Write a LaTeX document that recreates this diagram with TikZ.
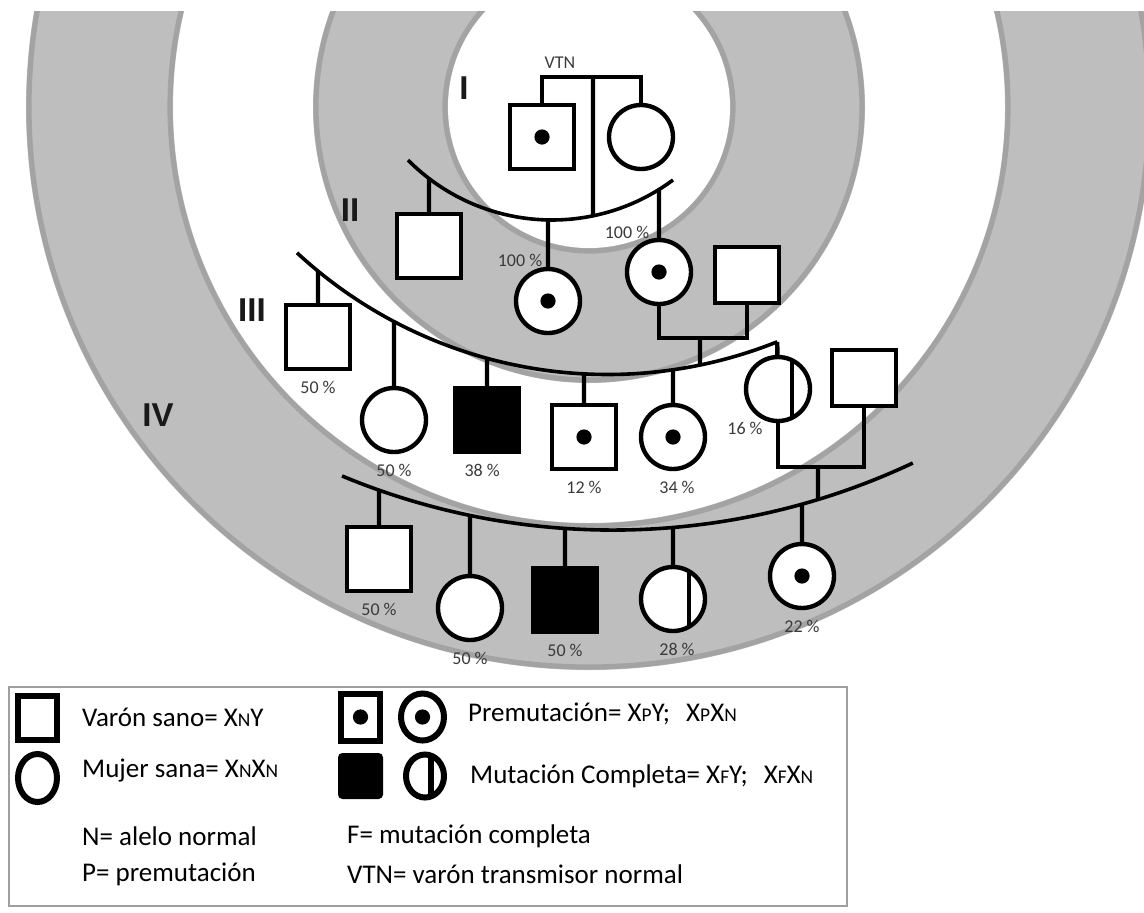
\documentclass[tikz,border=0pt]{standalone}
\usepackage{graphicx}
\usepackage{fontspec}
\setmainfont{Carlito}
\newfontfamily\genfont{Liberation Sans}
\usetikzlibrary{positioning,shapes.geometric}
\definecolor{ring}{HTML}{BEBEBE}
\definecolor{rim}{HTML}{A3A3A3}
\definecolor{pctgray}{HTML}{3A3A3A}
\newcommand{\al}[1]{\scalebox{0.72}{#1}}

\begin{document}
\begin{tikzpicture}[x=0.25mm,y=-0.25mm,line width=1.1mm,every node/.style={inner sep=0pt},
 male/.style={draw,fill=white,minimum width=16mm,minimum height=16mm},
 female/.style={draw,fill=white,circle,minimum size=16mm},
 spouse/.style={male,minimum height=14mm},
 carrier/.style={path picture={\fill[black] (path picture bounding box.center) circle[radius=1.9mm];}},
 affm/.style={male,fill=black},
 half/.style={path picture={\draw[black] ([xshift=#1]path picture bounding box.north)--([xshift=#1]path picture bounding box.south);}},
 sib/.style={line width=0.9mm},
 pct/.style={font=\fontsize{12.8}{14}\selectfont,text=pctgray},
 gen/.style={font=\genfont\bfseries\fontsize{23.5}{26}\selectfont,text=black!90},
 lg/.style={draw,fill=white,line width=1.5mm},
 lgtxt/.style={anchor=west,font=\fontsize{19.2}{22}\selectfont}]
\useasboundingbox (0,0) rectangle (1144,912);
% generation rings
\coordinate (c0) at (589,107);
\begin{scope}
\clip (0,11) rectangle (1144,912);
\fill[ring,even odd rule] (c0) circle[radius=563] (c0) circle[radius=416];
\fill[ring] (c0) circle[radius=276];
\fill[white] (c0) circle[radius=141];
\draw[rim,line width=1.3mm] (c0) circle[radius=560];\draw[rim,line width=1.3mm] (c0) circle[radius=419];
\draw[rim,line width=1.3mm] (c0) circle[radius=273];\draw[rim,line width=1.3mm] (c0) circle[radius=144];
\end{scope}
\node[gen] (g1) at (464,88) {I};
\node[gen] (g2) at (350,210) {II};
\node[gen] (g3) at (252,310) {III};
\node[gen] (g4) at (158,415) {IV};
% sibship arcs and their drop points
\coordinate (a2) at (552,17);\coordinate (a3) at (607.5,-82.5);\coordinate (a4) at (612.8,-174.5);
\draw[sib] (a2) ++(135.2:203) arc[start angle=135.2,end angle=53.4,radius=203];
\draw[sib] (a3) ++(132.8:457) arc[start angle=132.8,end angle=68.2,radius=457];
\draw[sib] (a4) ++(112.6:704.6) arc[start angle=112.6,end angle=64.8,radius=704.6];
\path (a2) ++({acos(41/203)}:203) coordinate (d2);\path (a2) ++({acos(-123/203)}:203) coordinate (t21);
\path (a2) ++({acos(-4/203)}:203) coordinate (t22);\path (a2) ++({acos(107/203)}:203) coordinate (t23);
\path (a3) ++({acos(92.5/457)}:457) coordinate (d3);\path (a3) ++({acos(-289.5/457)}:457) coordinate (t31);
\path (a3) ++({acos(-213.5/457)}:457) coordinate (t32);\path (a3) ++({acos(-120.5/457)}:457) coordinate (t33);
\path (a3) ++({acos(-23.5/457)}:457) coordinate (t34);\path (a3) ++({acos(65.5/457)}:457) coordinate (t35);
\path (a3) ++(68.2:457) coordinate (t36);
\path (a4) ++({acos(205.2/704.6)}:704.6) coordinate (d4);\path (a4) ++({acos(-233.8/704.6)}:704.6) coordinate (t41);
\path (a4) ++({acos(-142.8/704.6)}:704.6) coordinate (t42);\path (a4) ++({acos(-47.8/704.6)}:704.6) coordinate (t43);
\path (a4) ++({acos(60.2/704.6)}:704.6) coordinate (t44);\path (a4) ++({acos(189.2/704.6)}:704.6) coordinate (t45);
% generation I
\node[male,carrier] (i1) at (542,137) {};
\node[female] (i2) at (641,137) {};
\node[pct] (vtn) at (560,63) {VTN};
\coordinate (m1) at (593,77);
\draw (i1.north) |- (m1) -| (i2.north);\draw (m1)--(d2);
% generation II
\node[male] (ii1) at (429,246) {};
\node[female,carrier] (ii2) at (548,301) {};
\node[female,carrier] (ii3) at (659,272) {};
\node[spouse] (ii3s) at (747,275) {};
\node[pct] (p22) at (520,260) {100 \%};
\node[pct] (p23) at (627,232) {100 \%};
\draw (t21)--(ii1);\draw (t22)--(ii2);\draw (t23)--(ii3);
\coordinate (m2) at (700,338);
\draw (ii3.south) |- (m2) -| (ii3s.south);\draw (m2)--(d3);
% generation III
\node[male] (iii1) at (318,337) {};
\node[female] (iii2) at (394,420) {};
\node[affm] (iii3) at (487,420) {};
\node[male,carrier] (iii4) at (584,437) {};
\node[female,carrier] (iii5) at (673,437) {};
\node[female,half=3.5mm] (iii6) at (778,389) {};
\node[spouse] (iii6s) at (864,378) {};
\node[pct,below=2mm of iii1] (p31) {50 \%};
\node[pct,below=2mm of iii2] (p32) {50 \%};
\node[pct,below=2mm of iii3,xshift=-1.2mm] (p33) {38 \%};
\node[pct,below=2mm of iii4] (p34) {12 \%};
\node[pct,below=2mm of iii5,xshift=1mm] (p35) {34 \%};
\node[pct] (p36) at (745,428) {16 \%};
\draw (t31)--(iii1);\draw (t32)--(iii2);\draw (t33)--(iii3);\draw (t34)--(iii4);\draw (t35)--(iii5);\draw (t36)--(iii6);
\coordinate (m3) at (818,467);
\draw (iii6.south) |- (m3) -| (iii6s.south);\draw (m3)--(d4);
% generation IV
\node[male] (iv1) at (379,559) {};
\node[female] (iv2) at (470,608) {};
\node[affm] (iv3) at (565,600) {};
\node[female,half=4mm] (iv4) at (673,599) {};
\node[female,carrier] (iv5) at (802,576) {};
\node[pct,below=2mm of iv1] (p41) {50 \%};
\node[pct,below=2mm of iv2] (p42) {50 \%};
\node[pct,below=2mm of iv3] (p43) {50 \%};
\node[pct,below=2mm of iv4,xshift=1mm] (p44) {28 \%};
\node[pct,below=2mm of iv5] (p45) {22 \%};
\draw (t41)--(iv1);\draw (t42)--(iv2);\draw (t43)--(iv3);\draw (t44)--(iv4);\draw (t45)--(iv5);
% legend
\draw[gray!75,line width=0.7mm] (9,687) rectangle (847,906);
\node[lg,minimum width=9.75mm,minimum height=11mm] (l1) at (37.5,718) {};
\node[lg,ellipse,minimum width=9.75mm,minimum height=12mm] (l2) at (37.5,778) {};
\node[lg,carrier,minimum width=9.75mm,minimum height=11.75mm] (l3) at (360.5,717) {};
\node[lg,ellipse,carrier,minimum width=10.75mm,minimum height=11.75mm] (l4) at (422.5,717) {};
\node[lg,fill=black,rounded corners=0.5mm,minimum width=9.75mm,minimum height=10mm] (l5) at (360.5,776) {};
\node[lg,ellipse,half=1.5mm,minimum width=9.5mm,minimum height=10.75mm] (l6) at (425,776) {};
\node[lgtxt] (lt1) at (80,717) {Varón sano= X\al{N}Y};
\node[lgtxt] (lt2) at (80,771) {Mujer sana= X\al{N}X\al{N}};
\node[lgtxt] (lt3) at (466,714) {Premutación= X\al{P}Y;\hspace{4mm}X\al{P}X\al{N}};
\node[lgtxt] (lt4) at (468,776) {Mutación Completa= X\al{F}Y;\hspace{4mm}X\al{F}X\al{N}};
\node[lgtxt] (lt5) at (80,836) {N= alelo normal};
\node[lgtxt] (lt6) at (345,836) {F= mutación completa};
\node[lgtxt] (lt7) at (80,874) {P= premutación};
\node[lgtxt] (lt8) at (345,874) {VTN= varón transmisor normal};
\end{tikzpicture}
\end{document}
